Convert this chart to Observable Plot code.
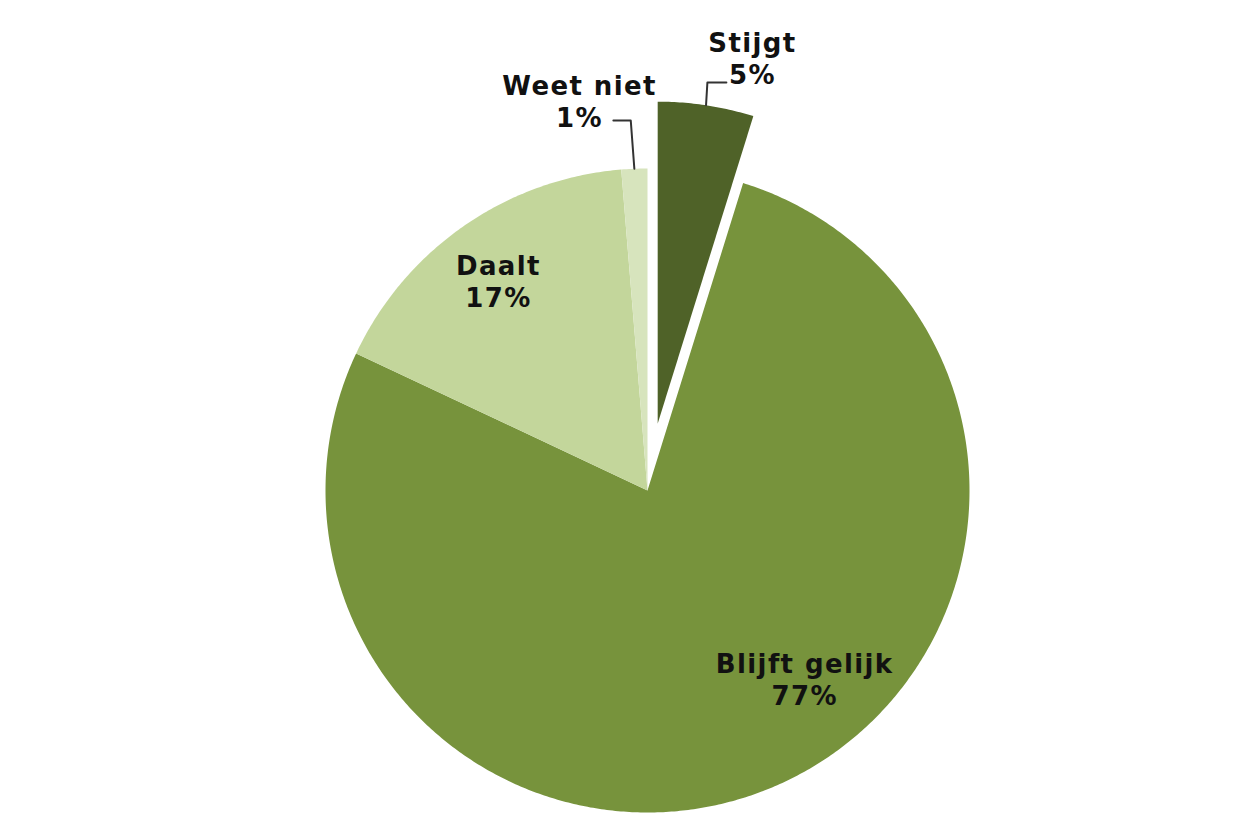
<!DOCTYPE html>
<html>
<head>
<meta charset="utf-8">
<script src="https://cdn.jsdelivr.net/npm/d3@7"></script>
<script src="https://cdn.jsdelivr.net/npm/@observablehq/plot@0.6"></script>
<style>
  html, body { margin: 0; padding: 0; background: #fff; }
  #chart { width: 1260px; height: 840px; }
  #chart svg text { letter-spacing: 1.4px; }
</style>
</head>
<body>
<div id="chart"></div>
<script>
// ---- data ----
const categories = ["Stijgt", "Blijft gelijk", "Daalt", "Weet niet"];
const shares = [4.8, 77.2, 16.7, 1.3];          // share of the circle
const percentLabels = ["5%", "77%", "17%", "1%"];
const colors = ["#4F6228", "#77933C", "#C3D69B", "#D7E4BD"];

// ---- layout (not data) ----
const W = 1260, H = 840, CX = 647, CY = 490, R = 322;
const explodeBy = {"Stijgt": 0.21};            // fraction of radius
// label block centres, in units of the radius relative to the pie centre
const labelPos = {
  "Stijgt": [0.326, 1.345],
  "Blijft gelijk": [0.488, -0.584],
  "Daalt": [-0.463, 0.652],
  "Weet niet": [-0.211, 1.211]
};
// leader lines: start point and elbow point (radius units); end is slice's arc midpoint
const leaders = {
  "Stijgt": [[0.245, 1.267], [0.186, 1.267]],
  "Weet niet": [[-0.106, 1.149], [-0.052, 1.149]]
};

const total = d3.sum(shares);
let acc = 0;
const slices = categories.map((c, i) => {
  const a0 = acc / total * 2 * Math.PI;
  acc += shares[i];
  const a1 = acc / total * 2 * Math.PI;
  const mid = (a0 + a1) / 2;
  const e = explodeBy[c] || 0;
  return {cat: c, a0, a1, mid, ox: e * Math.sin(mid), oy: e * Math.cos(mid)};
});

// polygon outline points for each slice (angles clockwise from 12 o'clock)
const polyPts = [];
slices.forEach(s => {
  polyPts.push({cat: s.cat, x: s.ox, y: s.oy});
  const n = Math.max(4, Math.ceil((s.a1 - s.a0) / (Math.PI / 360)));
  for (let k = 0; k <= n; k++) {
    const a = s.a0 + (s.a1 - s.a0) * k / n;
    polyPts.push({cat: s.cat, x: s.ox + Math.sin(a), y: s.oy + Math.cos(a)});
  }
});

const labelRows = slices.map((s, i) => ({
  cat: s.cat,
  x: labelPos[s.cat][0],
  y: labelPos[s.cat][1],
  text: s.cat + "\n" + percentLabels[i]
}));

const leaderPts = [];
slices.forEach(s => {
  const L = leaders[s.cat];
  if (!L) return;
  L.forEach(p => leaderPts.push({cat: s.cat, x: p[0], y: p[1]}));
  leaderPts.push({cat: s.cat, x: s.ox + Math.sin(s.mid), y: s.oy + Math.cos(s.mid)});
});

const plot = Plot.plot({
  width: W,
  height: H,
  margin: 0,
  style: {background: "#fff"},
  x: {domain: [-CX / R, (W - CX) / R], range: [0, W], axis: null},
  y: {domain: [-(H - CY) / R, CY / R], range: [H, 0], axis: null},
  color: {domain: categories, range: colors},
  marks: [
    Plot.line(polyPts, {x: "x", y: "y", z: "cat", fill: "cat", stroke: "none", curve: "linear-closed"}),
    Plot.line(leaderPts, {x: "x", y: "y", z: "cat", stroke: "#333", strokeWidth: 2}),
    Plot.text(labelRows, {
      x: "x", y: "y", text: "text",
      fontSize: 26, fontWeight: "bold", fontFamily: "DejaVu Sans, Verdana, sans-serif",
      lineHeight: 1.24, fill: "#111"
    })
  ]
});
document.getElementById("chart").appendChild(plot);
</script>
</body>
</html>
